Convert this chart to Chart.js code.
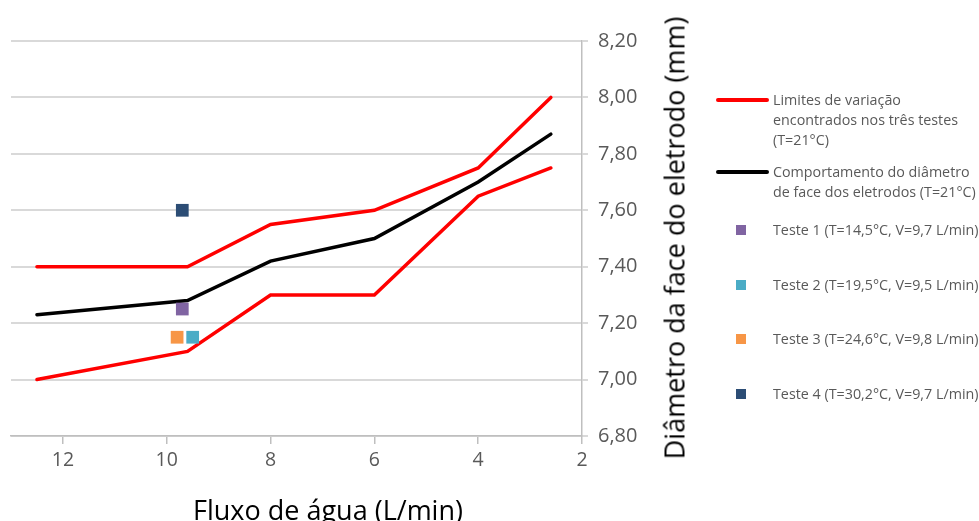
<!DOCTYPE html>
<html>
<head>
<meta charset="utf-8">
<script src="https://cdn.jsdelivr.net/npm/chart.js@4.4.1/dist/chart.umd.min.js"></script>
<style>
    body { margin: 0; background: #fff; font-family: "Open Sans", sans-serif; }
    #wrap { position: relative; width: 979px; height: 521px; overflow: hidden; }
    .title { position: absolute; white-space: nowrap; color: #000; font-size: 27px; line-height: 1; }
    #yTitle { left: 674px; top: 238px; transform: translate(-50%, -50%) rotate(-90deg); }
    #xTitle { left: 328px; top: 509px; transform: translate(-50%, -50%); }
    .leg { position: absolute; color: #595959; font-size: 14.3px; line-height: 20px; white-space: nowrap; }
    .swLine { position: absolute; height: 4px; border-radius: 2px; }
    .swBox { position: absolute; width: 10px; height: 10px; }
</style>
</head>
<body>
<div id="wrap">
    <canvas id="chart" width="979" height="521"></canvas>
    <div id="yTitle" class="title">Diâmetro da face do eletrodo (mm)</div>
    <div id="xTitle" class="title">Fluxo de água (L/min)</div>
    <div id="legend"></div>
</div>
<script>
// fluxo de água (L/min)
const flowPoints = [12.5, 9.6, 8, 6, 4, 2.6];
const upperLimit = [7.40, 7.40, 7.55, 7.60, 7.75, 8.00];
const lowerLimit = [7.00, 7.10, 7.30, 7.30, 7.65, 7.75];
const behaviour = [7.23, 7.28, 7.42, 7.50, 7.70, 7.87];

const testNames = [
    "Teste 1 (T=14,5°C, V=9,7 L/min)",
    "Teste 2 (T=19,5°C, V=9,5 L/min)",
    "Teste 3 (T=24,6°C, V=9,8 L/min)",
    "Teste 4 (T=30,2°C, V=9,7 L/min)"
];
const testFlow = [9.7, 9.5, 9.8, 9.7];
const testDiameter = [7.25, 7.15, 7.15, 7.60];
const testColors = ["#8064A2", "#4BACC6", "#F79646", "#2C4D75"];

const limitLabel = ["Limites de variação", "encontrados nos três testes", "(T=21°C)"];
const behaviourLabel = ["Comportamento do diâmetro", "de face dos eletrodos (T=21°C)"];

const xTicks = [12, 10, 8, 6, 4, 2];
const yTicks = [6.8, 7.0, 7.2, 7.4, 7.6, 7.8, 8.0, 8.2];

function toPoints(xs, ys) {
    return xs.map((x, i) => ({ x: x, y: ys[i] }));
}

const lineStyle = { showLine: true, pointRadius: 0, borderWidth: 3.5, borderCapStyle: "round", borderJoinStyle: "miter", fill: false };

const datasets = [];
testNames.forEach((name, i) => {
    datasets.push({
        label: name,
        data: [{ x: testFlow[i], y: testDiameter[i] }],
        pointStyle: "rect",
        pointRadius: 9,
        backgroundColor: testColors[i],
        borderColor: testColors[i],
        borderWidth: 0,
        order: 0
    });
});
datasets.push(Object.assign({ label: limitLabel.join(" "), data: toPoints(flowPoints, upperLimit), borderColor: "#ff0000", order: 1 }, lineStyle));
datasets.push(Object.assign({ label: limitLabel.join(" "), data: toPoints(flowPoints, lowerLimit), borderColor: "#ff0000", order: 1 }, lineStyle));
datasets.push(Object.assign({ label: behaviourLabel.join(" "), data: toPoints(flowPoints, behaviour), borderColor: "#000000", order: 1 }, lineStyle));

new Chart(document.getElementById("chart"), {
    type: "scatter",
    data: { datasets: datasets },
    options: {
        responsive: false,
        animation: false,
        layout: { padding: { left: 11, top: 41, right: 327, bottom: 35 } },
        plugins: { legend: { display: false }, tooltip: { enabled: false } },
        scales: {
            x: {
                type: "linear",
                reverse: true,
                min: 2,
                max: 13,
                afterBuildTicks: scale => { scale.ticks = xTicks.map(v => ({ value: v })); },
                afterFit: scale => { scale.height = 50; },
                grid: { drawOnChartArea: false, drawTicks: true, tickLength: 8, color: "#bfbfbf", lineWidth: 1.5 },
                border: { color: "#bfbfbf", width: 1.5 },
                ticks: { color: "#595959", font: { family: "'Open Sans', sans-serif", size: 19.5 }, padding: 5 }
            },
            y: {
                position: "right",
                min: 6.8,
                max: 8.2,
                afterBuildTicks: scale => { scale.ticks = yTicks.map(v => ({ value: v })); },
                afterFit: scale => { scale.width = 70; },
                grid: { color: "#d9d9d9", lineWidth: 2, tickLength: 6 },
                border: { color: "#bfbfbf", width: 1.5 },
                ticks: {
                    color: "#595959",
                    font: { family: "'Open Sans', sans-serif", size: 20 },
                    padding: 10,
                    callback: v => v.toFixed(2).replace(".", ",")
                }
            }
        }
    }
});

// legenda
const legend = document.getElementById("legend");
function addText(x, y, lines) {
    const d = document.createElement("div");
    d.className = "leg";
    d.style.left = x + "px";
    d.style.top = (y - 10) + "px";
    d.innerHTML = lines.join("<br>");
    legend.appendChild(d);
}
function addLine(y, color) {
    const d = document.createElement("div");
    d.className = "swLine";
    d.style.left = "716px";
    d.style.width = "53px";
    d.style.top = (y - 2) + "px";
    d.style.background = color;
    legend.appendChild(d);
}
addLine(100, "#ff0000");
addText(773, 100, limitLabel);
addLine(172, "#000000");
addText(773, 172, behaviourLabel);
const boxY = [230, 285, 339, 394];
testNames.forEach((name, i) => {
    const b = document.createElement("div");
    b.className = "swBox";
    b.style.left = "736px";
    b.style.top = (boxY[i] - 5) + "px";
    b.style.background = testColors[i];
    legend.appendChild(b);
    addText(773, boxY[i], [name]);
});
</script>
</body>
</html>
